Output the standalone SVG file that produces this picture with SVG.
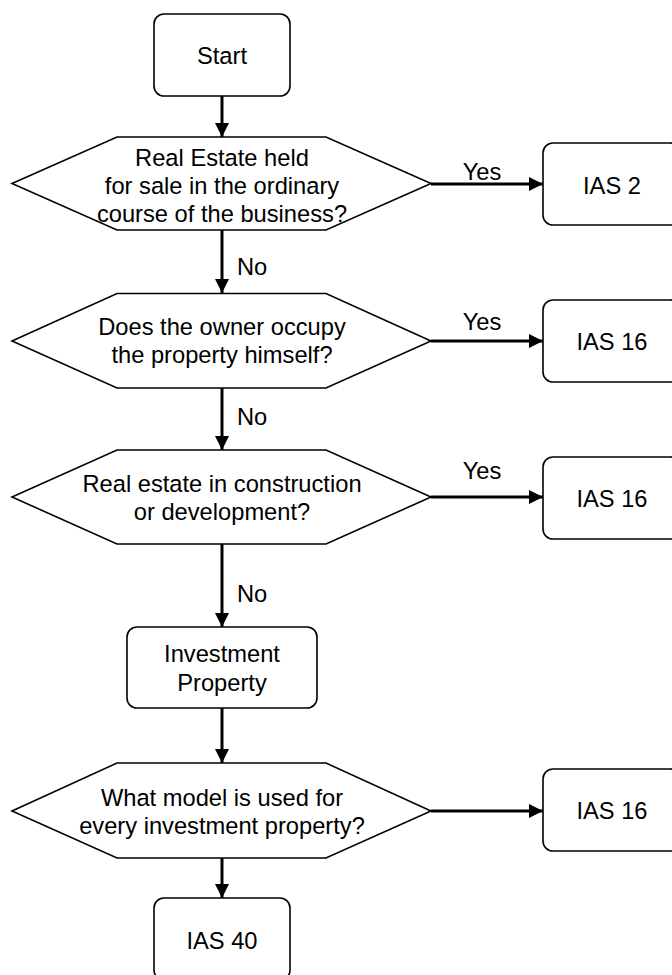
<svg xmlns="http://www.w3.org/2000/svg" width="672" height="975" viewBox="0 0 672 975">
<defs>
<style>
.box{fill:#fff;stroke:#000;stroke-width:1.6}
.t{font-family:"Liberation Sans",Arial,sans-serif;font-size:23.7px;fill:#000;text-anchor:middle}
.l{font-family:"Liberation Sans",Arial,sans-serif;font-size:23.7px;fill:#000}
.c{fill:none;stroke:#000;stroke-width:3}
</style>
<marker id="arr" markerUnits="userSpaceOnUse" markerWidth="14" markerHeight="14" refX="14" refY="7" orient="auto" viewBox="0 0 14 14">
<path d="M0,0 L14,7 L0,14 z" fill="#000"/>
</marker>
</defs>
<rect width="672" height="975" fill="#fff"/>
<g id="connectors">
<line class="c" x1="222" y1="96" x2="222" y2="137" marker-end="url(#arr)"/>
<line class="c" x1="222" y1="230" x2="222" y2="293" marker-end="url(#arr)"/>
<line class="c" x1="222" y1="388" x2="222" y2="450" marker-end="url(#arr)"/>
<line class="c" x1="222" y1="544" x2="222" y2="627" marker-end="url(#arr)"/>
<line class="c" x1="222" y1="708" x2="222" y2="763" marker-end="url(#arr)"/>
<line class="c" x1="222" y1="858" x2="222" y2="898" marker-end="url(#arr)"/>
<line class="c" x1="431" y1="184" x2="543" y2="184" marker-end="url(#arr)"/>
<line class="c" x1="431" y1="341" x2="543" y2="341" marker-end="url(#arr)"/>
<line class="c" x1="431" y1="497" x2="543" y2="497" marker-end="url(#arr)"/>
<line class="c" x1="431" y1="811" x2="543" y2="811" marker-end="url(#arr)"/>
<text class="t" x="482" y="180">Yes</text>
<text class="t" x="482" y="330">Yes</text>
<text class="t" x="482" y="479">Yes</text>
<text class="l" x="237" y="275">No</text>
<text class="l" x="237" y="425">No</text>
<text class="l" x="237" y="602">No</text>
</g>
<g id="start">
<rect class="box" x="154" y="14" width="136" height="82" rx="10"/>
<text class="t" x="222" y="64">Start</text>
</g>
<g id="q1">
<polygon class="box" points="12,183.5 117,137 326,137 431,183.5 326,230 117,230"/>
<text class="t" x="222" y="166">Real Estate held</text>
<text class="t" x="222" y="194">for sale in the ordinary</text>
<text class="t" x="222" y="222">course of the business?</text>
</g>
<g id="ias2">
<rect class="box" x="543" y="143" width="137" height="82" rx="10"/>
<text class="t" x="612" y="194">IAS 2</text>
</g>
<g id="q2">
<polygon class="box" points="12,341 117,293.5 326,293.5 431,341 326,388 117,388"/>
<text class="t" x="222" y="335">Does the owner occupy</text>
<text class="t" x="222" y="363">the property himself?</text>
</g>
<g id="ias16a">
<rect class="box" x="543" y="300" width="137" height="82" rx="10"/>
<text class="t" x="612" y="350">IAS 16</text>
</g>
<g id="q3">
<polygon class="box" points="12,497 117,450 326,450 431,497 326,544 117,544"/>
<text class="t" x="222" y="492">Real estate in construction</text>
<text class="t" x="222" y="520">or development?</text>
</g>
<g id="ias16b">
<rect class="box" x="543" y="457" width="137" height="82" rx="10"/>
<text class="t" x="612" y="507">IAS 16</text>
</g>
<g id="investment">
<rect class="box" x="127" y="627" width="190" height="81" rx="10"/>
<text class="t" x="222" y="662">Investment</text>
<text class="t" x="222" y="691">Property</text>
</g>
<g id="q4">
<polygon class="box" points="12,811 117,763 326,763 431,811 326,858 117,858"/>
<text class="t" x="222" y="806">What model is used for</text>
<text class="t" x="222" y="834">every investment property?</text>
</g>
<g id="ias16c">
<rect class="box" x="543" y="769" width="137" height="82" rx="10"/>
<text class="t" x="612" y="819">IAS 16</text>
</g>
<g id="ias40">
<rect class="box" x="154" y="898" width="136" height="82" rx="10"/>
<text class="t" x="222" y="949">IAS 40</text>
</g>
</svg>
